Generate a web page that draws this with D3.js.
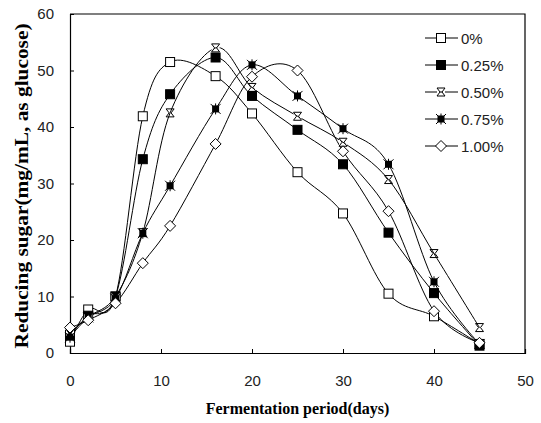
<!DOCTYPE html>
<html>
<head>
<meta charset="utf-8">
<script src="https://d3js.org/d3.v7.min.js"></script>
<style>
  body { margin: 0; background: #fff; }
  #chart svg { display: block; }
</style>
</head>
<body>
<div id="chart"></div>
<script>
// Data
const days = [0, 2, 5, 8, 11, 16, 20, 25, 30, 35, 40, 45];
const seriesNames = ["0%", "0.25%", "0.50%", "0.75%", "1.00%"];
const s0 = [2.0, 7.7, 10.0, 41.9, 51.5, 49.0, 42.4, 32.0, 24.7, 10.5, 6.5, 1.6];
const s025 = [3.2, 6.6, 10.0, 34.3, 45.8, 52.3, 45.5, 39.5, 33.4, 21.3, 10.6, 1.3];
const s050 = [3.5, 6.4, 10.0, 21.3, 42.5, 54.0, 47.0, 41.9, 37.3, 30.7, 17.6, 4.5];
const s075 = [2.8, 6.3, 9.6, 21.2, 29.6, 43.2, 51.0, 45.5, 39.7, 33.4, 12.6, 1.6];
const s100 = [4.5, 5.8, 8.8, 15.9, 22.5, 37.0, 48.9, 50.0, 35.7, 25.1, 7.4, 1.8];
const xTicks = [0, 10, 20, 30, 40, 50];
const yTicks = [0, 10, 20, 30, 40, 50, 60];

const allSeries = [s0, s025, s050, s075, s100];

// Layout
let margin = {top: 14, right: 16, bottom: 70, left: 70},
    width = 541 - margin.left - margin.right,
    height = 423 - margin.top - margin.bottom;

let svg = d3.select("#chart").append("svg")
    .attr("width", 541)
    .attr("height", 423);

let g = svg.append("g")
    .attr("transform", "translate(" + margin.left + "," + margin.top + ")");

let x = d3.scaleLinear().domain([0, 50]).range([0, width]);
let y = d3.scaleLinear().domain([0, 60]).range([height, 0]);

const tickFont = "'Liberation Sans', Arial, sans-serif";
const titleFont = "'Liberation Serif', 'Times New Roman', serif";

// Axes (ticks pointing inward)
let xAxis = g.append("g")
    .attr("transform", "translate(0," + height + ")")
    .call(d3.axisBottom(x).tickValues(xTicks).tickSize(-4).tickPadding(22));
let yAxis = g.append("g")
    .call(d3.axisLeft(y).tickValues(yTicks).tickSize(-4).tickPadding(16));

[xAxis, yAxis].forEach(function(a) {
    a.select(".domain").attr("stroke", "#000").attr("stroke-width", 1.2);
    a.selectAll(".tick line").attr("stroke", "#000");
    a.selectAll(".tick text")
        .attr("font-family", tickFont)
        .attr("font-size", 15)
        .attr("fill", "#222");
});

// top and right frame
g.append("path")
    .attr("d", "M0,0H" + width + "V" + height)
    .attr("fill", "none")
    .attr("stroke", "#000")
    .attr("stroke-width", 1.2);

// Axis titles
svg.append("text")
    .attr("x", margin.left + width / 2)
    .attr("y", 414)
    .attr("text-anchor", "middle")
    .attr("font-family", titleFont)
    .attr("font-weight", "bold")
    .attr("font-size", 16)
    .text("Fermentation period(days)");

svg.append("text")
    .attr("transform", "translate(28,186) rotate(-90)")
    .attr("text-anchor", "middle")
    .attr("font-family", titleFont)
    .attr("font-weight", "bold")
    .attr("font-size", 19)
    .attr("textLength", 325)
    .attr("lengthAdjust", "spacingAndGlyphs")
    .text("Reducing sugar(mg/mL, as glucose)");

// Marker drawing
function drawMarker(sel, k) {
    if (k === 0) {
        sel.append("rect").attr("x", -4.5).attr("y", -4.5).attr("width", 9).attr("height", 9)
            .attr("fill", "#fff").attr("stroke", "#000").attr("stroke-width", 1);
    } else if (k === 1) {
        sel.append("rect").attr("x", -4.5).attr("y", -4.5).attr("width", 9).attr("height", 9)
            .attr("fill", "#000").attr("stroke", "#000").attr("stroke-width", 1);
    } else if (k === 2) {
        sel.append("path")
            .attr("d", "M-4,-4L-1,0L-4,4M4,-4L1,0L4,4M-4,-4L4,-4M-4,4L4,4")
            .attr("fill", "#fff").attr("stroke", "#000").attr("stroke-width", 1);
    } else if (k === 3) {
        sel.append("rect").attr("x", -3.5).attr("y", -3.5).attr("width", 7).attr("height", 7)
            .attr("fill", "#000");
        sel.append("path").attr("d", "M-5,-5L5,5M5,-5L-5,5M0,-5.5V5.5")
            .attr("stroke", "#000").attr("stroke-width", 1);
    } else {
        sel.append("path").attr("d", "M0,-5.5L5.5,0L0,5.5L-5.5,0Z")
            .attr("fill", "#fff").attr("stroke", "#000").attr("stroke-width", 1);
    }
}

let line = d3.line()
    .x(function(d, i) { return x(days[i]); })
    .y(function(d) { return y(d); })
    .curve(d3.curveCardinal.tension(0));

// Lines
allSeries.forEach(function(vals) {
    g.append("path")
        .datum(vals)
        .attr("d", line)
        .attr("fill", "none")
        .attr("stroke", "#000")
        .attr("stroke-width", 1);
});

// Markers
allSeries.forEach(function(vals, k) {
    g.selectAll(".m" + k)
        .data(vals)
        .enter().append("g")
        .attr("class", "m" + k)
        .attr("transform", function(d, i) { return "translate(" + x(days[i]) + "," + y(d) + ")"; })
        .each(function() { drawMarker(d3.select(this), k); });
});

// Legend
let legend = svg.append("g").attr("transform", "translate(425,38)");
seriesNames.forEach(function(name, k) {
    let row = legend.append("g").attr("transform", "translate(0," + (k * 27) + ")");
    row.append("line").attr("x1", 0).attr("x2", 33).attr("y1", 0).attr("y2", 0)
        .attr("stroke", "#000").attr("stroke-width", 1);
    drawMarker(row.append("g").attr("transform", "translate(16,0)"), k);
    row.append("text")
        .attr("x", 36).attr("y", 5.5)
        .attr("font-family", tickFont)
        .attr("font-size", 15)
        .attr("fill", "#222")
        .text(name);
});
</script>
</body>
</html>
